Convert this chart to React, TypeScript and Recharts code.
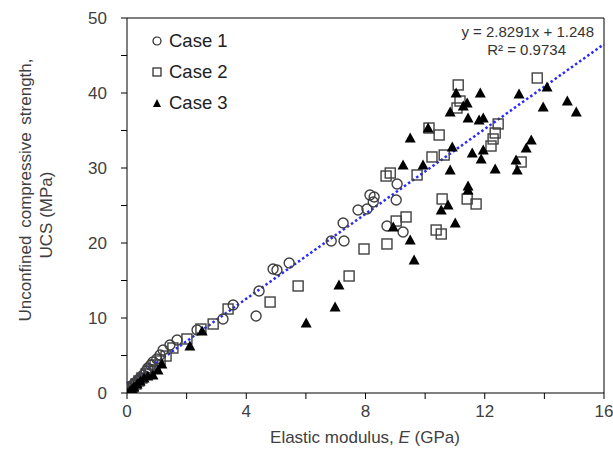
import React from "react";
import {
  ScatterChart,
  Scatter,
  XAxis,
  YAxis,
  ReferenceLine,
  Label,
} from "recharts";

// Case 1 (circles)
const case1E = [0.03, 0.07, 0.13, 0.2, 0.27, 0.37, 0.44, 0.54, 0.64, 0.7, 0.8, 0.87, 1.0, 1.11, 1.21, 1.44, 1.68, 2.35, 3.22, 3.56, 4.33, 4.43, 4.9, 5.03, 5.44, 6.85, 7.28, 7.25, 7.75, 8.05, 8.15, 8.29, 8.26, 9.03, 9.06, 8.72, 9.26];
const case1UCS = [0, 0.27, 0.67, 1.07, 1.33, 1.73, 2.0, 2.4, 2.93, 3.33, 3.73, 4.13, 4.53, 5.07, 5.73, 6.4, 7.07, 8.4, 9.87, 11.73, 10.27, 13.6, 16.53, 16.4, 17.33, 20.27, 20.27, 22.67, 24.4, 24.53, 26.4, 26.13, 25.47, 25.73, 27.87, 22.27, 21.47];

// Case 2 (squares)
const case2E = [0.03, 0.07, 0.13, 0.2, 0.3, 0.4, 0.5, 0.64, 0.77, 0.94, 1.11, 1.31, 1.54, 2.01, 2.48, 2.89, 3.39, 4.8, 5.74, 7.45, 7.95, 8.72, 8.69, 8.83, 9.73, 10.23, 10.64, 9.03, 9.36, 10.37, 10.54, 10.57, 11.11, 11.17, 11.07, 10.13, 10.47, 11.41, 11.71, 12.45, 12.35, 12.28, 12.21, 13.22, 13.76];
const case2UCS = [0, 0.27, 0.53, 0.8, 1.2, 1.6, 2.0, 2.53, 3.07, 3.73, 4.27, 4.93, 6.0, 7.2, 8.53, 9.2, 11.2, 12.13, 14.27, 15.6, 19.2, 19.87, 28.93, 29.33, 29.07, 31.47, 31.73, 22.93, 23.47, 21.73, 21.2, 25.87, 41.07, 38.93, 38.0, 35.33, 34.4, 25.87, 25.2, 35.87, 34.67, 33.87, 32.93, 30.8, 42.0];

// Case 3 (triangles)
const case3E = [0.03, 0.1, 0.17, 0.23, 0.34, 0.44, 0.57, 0.7, 0.87, 1.04, 1.17, 2.11, 2.52, 6.01, 6.98, 7.11, 8.93, 9.5, 9.63, 9.26, 9.93, 9.5, 10.1, 10.84, 10.54, 10.77, 11.01, 11.44, 11.44, 10.91, 11.04, 10.84, 11.28, 11.41, 11.44, 11.85, 11.81, 11.95, 11.58, 11.95, 11.88, 12.35, 13.05, 13.09, 13.39, 13.56, 13.15, 14.09, 13.96, 14.77, 15.07];
const case3UCS = [0, 0.27, 0.53, 0.8, 1.2, 1.6, 2.0, 2.27, 2.4, 3.07, 3.87, 6.27, 8.27, 9.33, 11.47, 14.4, 22.13, 20.4, 17.73, 30.4, 30.4, 34.0, 35.33, 29.73, 24.4, 25.07, 22.67, 27.6, 27.07, 32.8, 40.0, 37.47, 38.27, 38.67, 36.67, 40.0, 36.4, 36.67, 32.0, 32.4, 31.2, 29.87, 31.07, 29.73, 32.67, 33.73, 39.87, 40.8, 38.13, 38.93, 37.47];

const xTicks = [0, 2, 4, 6, 8, 10, 12, 14, 16];
const yTicks = [0, 5, 10, 15, 20, 25, 30, 35, 40, 45, 50];

// linear fit shown on the chart
const slope = 2.8291;
const intercept = 1.248;

const FONT = "'Liberation Sans', Arial, sans-serif";
const TEXT = "#404040";

const toPoints = (xs: number[], ys: number[]) =>
  xs.map((x, i) => ({ x, y: ys[i] }));

const CircleMark = (props: any) => (
  <circle cx={props.cx} cy={props.cy} r={5} fill="none" stroke="#404040" strokeWidth={1.4} />
);

const SquareMark = (props: any) => (
  <rect x={props.cx - 5} y={props.cy - 5} width={10} height={10} fill="none" stroke="#404040" strokeWidth={1.4} />
);

const TriangleMark = (props: any) => (
  <path
    d={`M${props.cx},${props.cy - 5.5} L${props.cx + 5.5},${props.cy + 4.5} L${props.cx - 5.5},${props.cy + 4.5} Z`}
    fill="#000"
  />
);

const XTick = (props: any) => {
  const { x, y, payload } = props;
  if (payload.value % 4 !== 0) return null;
  return (
    <text x={x} y={y} dy="0.71em" textAnchor="middle" fontSize={17} fontFamily={FONT} fill={TEXT}>
      {payload.value}
    </text>
  );
};

const YTick = (props: any) => {
  const { x, y, payload } = props;
  if (payload.value % 10 !== 0) return null;
  return (
    <text x={x} y={y} dy="0.36em" textAnchor="end" fontSize={17} fontFamily={FONT} fill={TEXT}>
      {payload.value}
    </text>
  );
};

const legendItems = [
  { name: "Case 1", kind: "circle" },
  { name: "Case 2", kind: "square" },
  { name: "Case 3", kind: "triangle" },
];

function ChartLegend() {
  return (
    <div style={{ position: "absolute", left: 151, top: 25, fontFamily: FONT, fontSize: 18.5, color: "#222" }}>
      {legendItems.map((it) => (
        <div key={it.name} style={{ display: "flex", alignItems: "center", height: 31 }}>
          <svg width={12} height={12} style={{ marginRight: 6 }}>
            {it.kind === "circle" && <circle cx={6} cy={6} r={4} fill="none" stroke="#222" strokeWidth={1.2} />}
            {it.kind === "square" && <rect x={2} y={2} width={8} height={8} fill="none" stroke="#222" strokeWidth={1.2} />}
            {it.kind === "triangle" && <path d="M6,2 L10,10 L2,10 Z" fill="#000" />}
          </svg>
          <span>{it.name}</span>
        </div>
      ))}
    </div>
  );
}

export default function App() {
  return (
    <div style={{ position: "absolute", left: 0, top: 0, width: 613, height: 459, background: "#fff" }}>
      <ScatterChart width={613} height={459} margin={{ top: 18, right: 9, bottom: 0, left: 0 }}>
        <XAxis
          type="number"
          dataKey="x"
          domain={[0, 16]}
          ticks={xTicks}
          tick={<XTick />}
          tickSize={6}
          tickMargin={6}
          height={66}
          axisLine={{ stroke: "#000" }}
          tickLine={{ stroke: "#000" }}
          allowDataOverflow
        >
          <Label
            content={() => (
              <text x={365} y={443} textAnchor="middle" fontSize={17} fontFamily={FONT} fill={TEXT}>
                Elastic modulus, <tspan fontStyle="italic">E</tspan> (GPa)
              </text>
            )}
          />
        </XAxis>
        <YAxis
          type="number"
          dataKey="y"
          domain={[0, 50]}
          ticks={yTicks}
          tick={<YTick />}
          tickSize={6}
          tickMargin={14}
          width={127}
          axisLine={{ stroke: "#000" }}
          tickLine={{ stroke: "#000" }}
          allowDataOverflow
        >
          <Label
            content={() => (
              <g transform="rotate(-90)">
                <text x={-190} y={31} textAnchor="middle" fontSize={17} fontFamily={FONT} fill={TEXT} wordSpacing={3}>
                  Unconfined compressive strength,
                </text>
                <text x={-215} y={52} textAnchor="middle" fontSize={17} fontFamily={FONT} fill={TEXT}>
                  UCS (MPa)
                </text>
              </g>
            )}
          />
        </YAxis>
        <ReferenceLine y={50} stroke="#000" />
        <ReferenceLine x={16} stroke="#000" />
        <ReferenceLine
          segment={[
            { x: 0, y: intercept },
            { x: 16, y: slope * 16 + intercept },
          ]}
          stroke="#2b2bff"
          strokeWidth={2.5}
          strokeDasharray="2.5 2.5"
          ifOverflow="visible"
        />
        <Scatter name="Case 1" data={toPoints(case1E, case1UCS)} shape={<CircleMark />} isAnimationActive={false} />
        <Scatter name="Case 2" data={toPoints(case2E, case2UCS)} shape={<SquareMark />} isAnimationActive={false} />
        <Scatter name="Case 3" data={toPoints(case3E, case3UCS)} shape={<TriangleMark />} isAnimationActive={false} />
      </ScatterChart>
      <ChartLegend />
      <div
        style={{
          position: "absolute",
          left: 430,
          top: 23,
          width: 164,
          fontFamily: FONT,
          fontSize: 15,
          lineHeight: "18px",
          color: "#333",
        }}
      >
        <div style={{ textAlign: "right" }}>y = 2.8291x + 1.248</div>
        <div style={{ textAlign: "right", paddingRight: 28 }}>R² = 0.9734</div>
      </div>
    </div>
  );
}
